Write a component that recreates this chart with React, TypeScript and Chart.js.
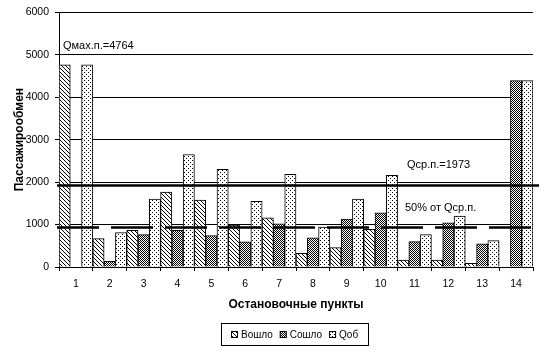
import React, { useEffect, useRef } from "react";
import { Chart, registerables } from "chart.js";

Chart.register(...registerables);

// ---- data ----
const stops = ["1", "2", "3", "4", "5", "6", "7", "8", "9", "10", "11", "12", "13", "14"];
const voshlo = [4764, 668, 862, 1764, 1577, 985, 1158, 322, 455, 886, 163, 163, 85, 0];
const soshlo = [0, 132, 761, 862, 738, 590, 1018, 688, 1130, 1274, 598, 1041, 544, 4392];
const qob = [4764, 808, 1600, 2650, 2300, 1545, 2183, 940, 1600, 2160, 761, 1197, 622, 4392];
const seriesNames = ["Вошло", "Сошло", "Qоб"];
const yMin = 0;
const yMax = 6000;
const yStep = 1000;
const qSrLine = 1940; // average line (drawn position)
const qHalfLine = 935; // 50% line (drawn position)
const labelQmax = "Qмах.п.=4764";
const labelQsr = "Qср.п.=1973";
const labelHalf = "50% от Qср.п.";
const xTitle = "Остановочные пункты";
const yTitle = "Пассажирообмен";

const FONT = "'Liberation Sans', Arial, Helvetica, sans-serif";

function makePattern(kind: string): CanvasPattern | string {
  const c = document.createElement("canvas");
  const size = kind === "checker" ? 2 : 4;
  c.width = size;
  c.height = size;
  const g = c.getContext("2d")!;
  g.fillStyle = "#fff";
  g.fillRect(0, 0, size, size);
  g.fillStyle = "#000";
  if (kind === "hatch") {
    for (let i = 0; i < 4; i++) g.fillRect(i, i, 1, 1);
  } else if (kind === "checker") {
    g.fillRect(0, 0, 1, 1);
    g.fillRect(1, 1, 1, 1);
  } else {
    g.fillRect(0, 0, 1, 1);
    g.fillRect(2, 2, 1, 1);
  }
  const p = g.createPattern(c, "repeat");
  return p || "#888";
}

export default function App() {
  const ref = useRef<HTMLCanvasElement | null>(null);

  useEffect(() => {
    const canvas = ref.current;
    if (!canvas) return;
    const patterns = [makePattern("hatch"), makePattern("checker"), makePattern("dots")];

    const overlayPlugin = {
      id: "overlay",
      afterDatasetsDraw(chart: any) {
        const { ctx, chartArea, scales } = chart;
        const ys = scales.y;
        ctx.save();
        ctx.strokeStyle = "#000";
        ctx.lineWidth = 2.5;
        // average line
        const y1 = Math.round(ys.getPixelForValue(qSrLine)) + 0.5;
        ctx.beginPath();
        ctx.moveTo(chartArea.left - 2, y1);
        ctx.lineTo(chartArea.right + 6, y1);
        ctx.stroke();
        // 50% dashed line
        const y2 = Math.round(ys.getPixelForValue(qHalfLine)) + 0.5;
        ctx.setLineDash([42, 12]);
        ctx.beginPath();
        ctx.moveTo(chartArea.left - 2, y2);
        ctx.lineTo(chartArea.right + 9, y2);
        ctx.stroke();
        ctx.setLineDash([]);
        // labels
        ctx.fillStyle = "#000";
        ctx.font = `11px ${FONT}`;
        ctx.textBaseline = "middle";
        ctx.textAlign = "left";
        ctx.fillText(labelQmax, chartArea.left + 4, ys.getPixelForValue(5215));
        ctx.fillText(labelQsr, chartArea.left + 348, ys.getPixelForValue(2395));
        ctx.fillText(labelHalf, chartArea.left + 346, ys.getPixelForValue(1380));
        ctx.restore();
      },
      afterDraw(chart: any) {
        const { ctx } = chart;
        ctx.save();
        ctx.font = `10px ${FONT}`;
        const icon = 7;
        const gapIconText = 3;
        const gapItems = 7;
        const widths = seriesNames.map((n) => ctx.measureText(n).width);
        let total = 0;
        widths.forEach((w, i) => {
          total += icon + gapIconText + w + (i < widths.length - 1 ? gapItems : 0);
        });
        const boxL = 221.5;
        const boxR = 368.5;
        const boxT = 323.5;
        const boxB = 345.5;
        const cy = (boxT + boxB) / 2;
        ctx.strokeStyle = "#000";
        ctx.lineWidth = 1;
        ctx.strokeRect(boxL, boxT, boxR - boxL, boxB - boxT);
        let x = Math.round((boxL + boxR) / 2 - total / 2);
        ctx.textBaseline = "middle";
        ctx.textAlign = "left";
        seriesNames.forEach((n, i) => {
          const top = Math.round(cy - icon / 2);
          ctx.fillStyle = patterns[i] as any;
          ctx.fillRect(x, top, icon, icon);
          ctx.strokeRect(x + 0.5, top + 0.5, icon - 1, icon - 1);
          ctx.fillStyle = "#000";
          ctx.fillText(n, x + icon + gapIconText, cy + 1);
          x += icon + gapIconText + widths[i] + gapItems;
        });
        ctx.restore();
      },
    };

    const chart = new Chart(canvas, {
      type: "bar",
      data: {
        labels: stops,
        datasets: [voshlo, soshlo, qob].map((d, i) => ({
          label: seriesNames[i],
          data: d,
          backgroundColor: patterns[i] as any,
          borderColor: "#000",
          borderWidth: 1,
          categoryPercentage: 1,
          barPercentage: 1,
        })),
      },
      options: {
        animation: false,
        responsive: false,
        devicePixelRatio: 1,
        layout: { padding: { left: 0, right: 23, top: 9, bottom: 0 } },
        plugins: { legend: { display: false }, tooltip: { enabled: false } },
        scales: {
          x: {
            grid: { offset: true, drawOnChartArea: false, drawTicks: true, tickLength: 4, color: "#000" },
            border: { display: true, color: "#000", width: 1 },
            ticks: { color: "#000", font: { family: FONT, size: 10.5 }, padding: 7, maxRotation: 0 },
            title: {
              display: true,
              text: xTitle,
              color: "#000",
              font: { family: FONT, size: 12, weight: "bold" },
              padding: { top: 0, bottom: 40 },
            },
            afterFit: (s: any) => {
              s.height = 85;
            },
          },
          y: {
            min: yMin,
            max: yMax,
            ticks: {
              stepSize: yStep,
              color: "#000",
              font: { family: FONT, size: 10.5 },
              padding: 6,
              callback: (v: any) => String(v),
            },
            grid: { color: "#000", lineWidth: 1, tickLength: 4 },
            border: { display: true, color: "#000", width: 1 },
            title: {
              display: true,
              text: yTitle,
              color: "#000",
              font: { family: FONT, size: 12, weight: "bold" },
              padding: { top: 12, bottom: 0 },
            },
            afterFit: (s: any) => {
              s.width = 59;
            },
          },
        },
      } as any,
      plugins: [overlayPlugin],
    });

    return () => chart.destroy();
  }, []);

  return (
    <div style={{ position: "fixed", left: 0, top: 0, width: 556, height: 352, background: "#fff" }}>
      <canvas ref={ref} width={556} height={352} style={{ width: 556, height: 352, display: "block" }} />
    </div>
  );
}
